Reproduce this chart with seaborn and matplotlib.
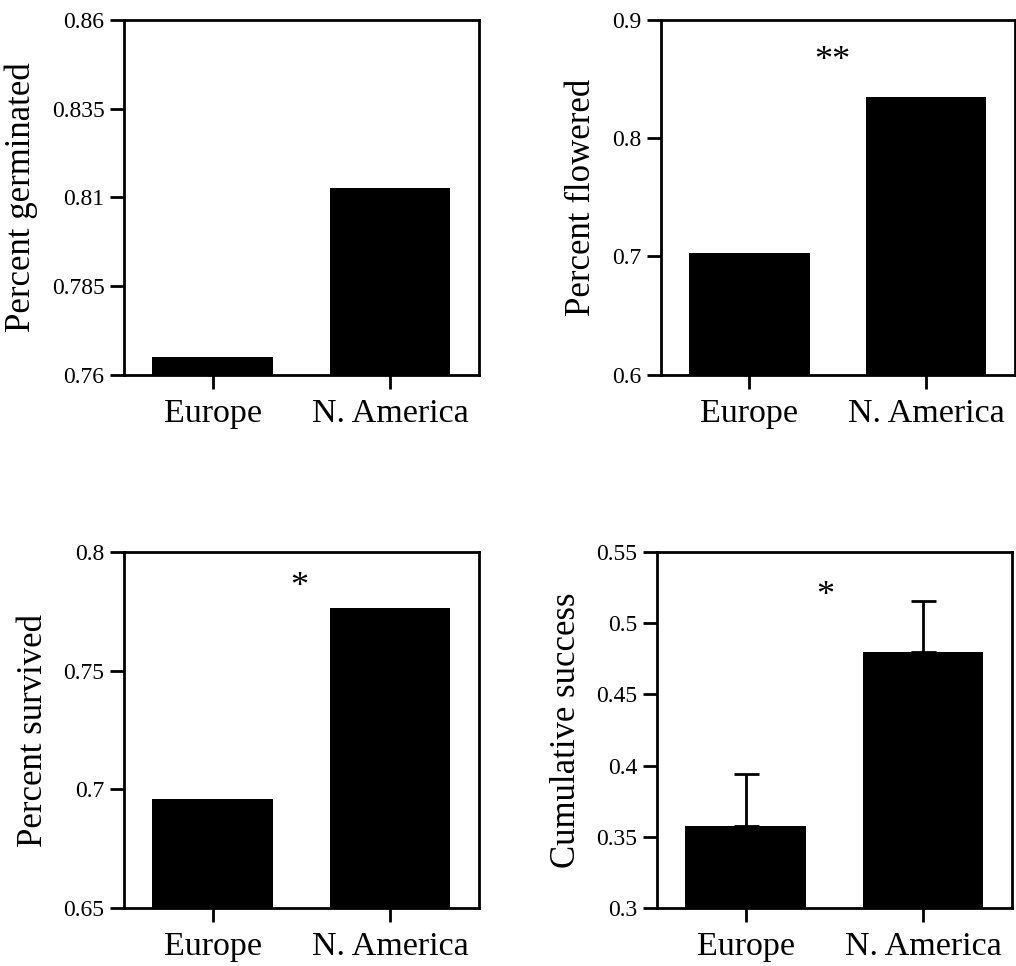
import matplotlib
matplotlib.use("Agg")
import matplotlib.pyplot as plt
import seaborn as sns
import numpy as np

regions = ["Europe", "N. America"]

germinated = [0.765, 0.8127]
flowered = [0.703, 0.835]
survived = [0.696, 0.7764]
cumulative = [0.3577, 0.4796]
cumulative_err = [0.0363, 0.0359]

ylabels = ["Percent germinated", "Percent flowered", "Percent survived", "Cumulative success"]
yticks_list = [
    [0.76, 0.785, 0.81, 0.835, 0.86],
    [0.6, 0.7, 0.8, 0.9],
    [0.65, 0.7, 0.75, 0.8],
    [0.3, 0.35, 0.4, 0.45, 0.5, 0.55],
]
ytick_labels = [
    ["0.76", "0.785", "0.81", "0.835", "0.86"],
    ["0.6", "0.7", "0.8", "0.9"],
    ["0.65", "0.7", "0.75", "0.8"],
    ["0.3", "0.35", "0.4", "0.45", "0.5", "0.55"],
]
sig_marks = [None, "**", "*", "*"]
sig_pos = [None, (0.47, 0.865), (0.49, 0.785), (0.45, 0.519)]

sns.set_style("white")
plt.rcParams['font.family'] = ['Liberation Serif', 'DejaVu Serif']
plt.rcParams['text.color'] = 'black'
plt.rcParams['axes.labelcolor'] = 'black'
plt.rcParams['xtick.color'] = 'black'
plt.rcParams['ytick.color'] = 'black'

fig = plt.figure(figsize=(10.16, 9.66), dpi=100)
positions = [
    [0.122, 0.612, 0.349, 0.3675],
    [0.6506, 0.612, 0.348, 0.3675],
    [0.122, 0.060, 0.349, 0.3685],
    [0.6467, 0.060, 0.349, 0.3685],
]
data = [germinated, flowered, survived, cumulative]

for i in range(4):
    ax = fig.add_axes(positions[i])
    sns.barplot(x=regions, y=data[i], color="black", width=0.68,
                saturation=1, ax=ax, edgecolor="black", linewidth=0)
    if i == 3:
        ax.errorbar(x=[0, 1], y=cumulative,
                    yerr=[[0, 0], cumulative_err],
                    fmt="none", ecolor="black", elinewidth=2,
                    capsize=9, capthick=2)
    ax.set_xlim(-0.5, 1.5)
    ax.set_ylim(yticks_list[i][0], yticks_list[i][-1])
    ax.set_yticks(yticks_list[i])
    ax.set_yticklabels(ytick_labels[i], fontsize=17)
    ax.set_ylabel(ylabels[i], fontsize=25, labelpad=10, color="black")
    ax.set_xlabel("")
    ax.tick_params(axis="x", labelsize=24.5, length=10, width=2,
                   direction="out", bottom=True, pad=7,
                   colors="black")
    ax.tick_params(axis="y", length=10, width=2, direction="out",
                   left=True, pad=4, colors="black")
    for s in ax.spines.values():
        s.set_visible(True)
        s.set_color("black")
        s.set_linewidth(2)
    if sig_marks[i]:
        x, y = sig_pos[i]
        ax.text(x, y, sig_marks[i], fontsize=26, ha="center", va="center",
                color="black")

fig.savefig("out.png", dpi=100)
